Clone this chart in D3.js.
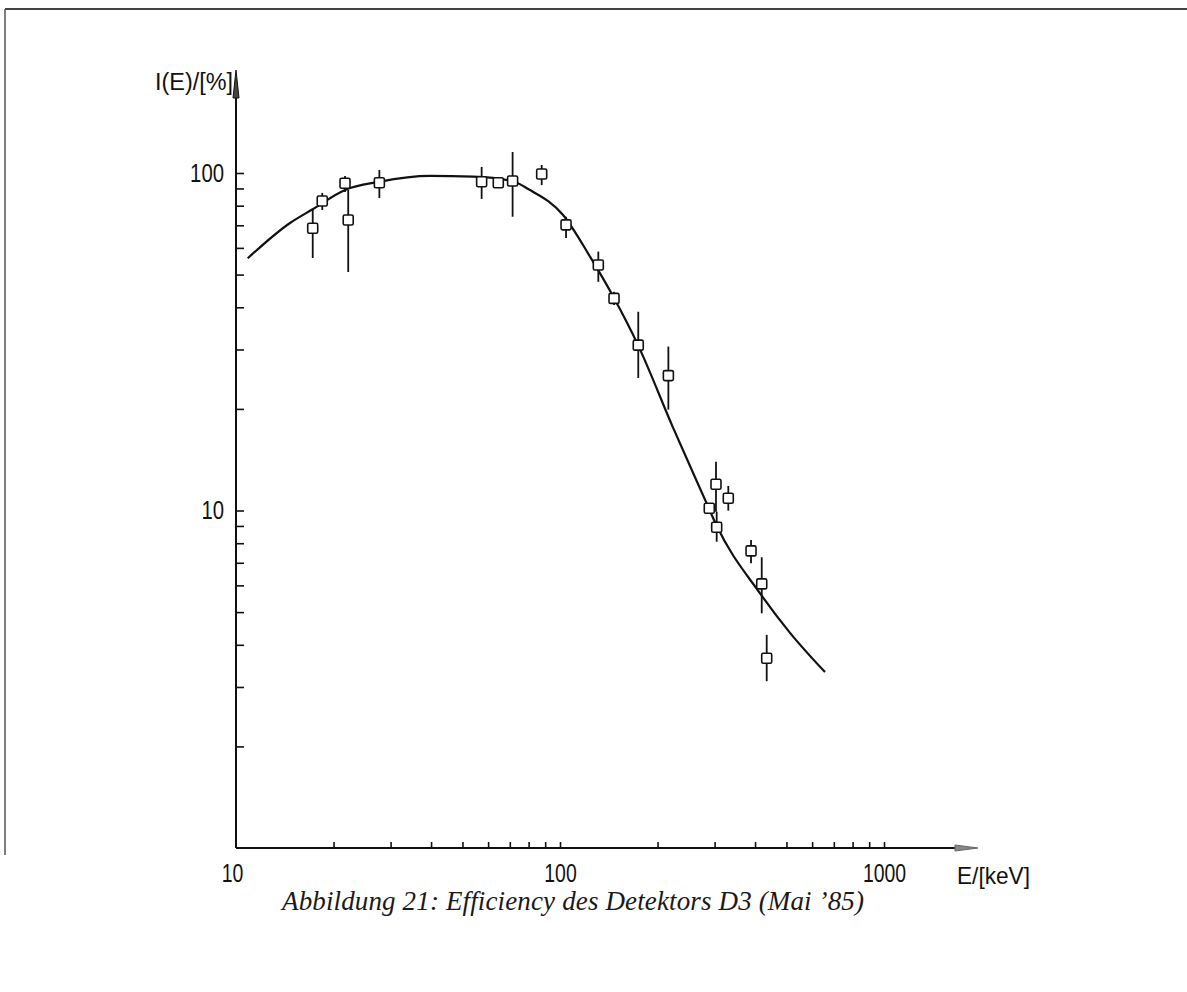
<!DOCTYPE html>
<html>
<head>
<meta charset="utf-8">
<script src="https://cdn.jsdelivr.net/npm/d3@7"></script>
<style>
  body { margin: 0; background: #fff; }
  svg { display: block; }
</style>
</head>
<body>
<div id="chart"></div>
<script>
// measured points: energy [keV], efficiency [%], error bar ends
var energies  = [17.25, 18.46, 21.7, 22.2, 27.7, 57.3, 64.5, 71.4, 87.8, 104.4, 131.3,
                 146.8, 174.4, 216.0, 288.9, 303.0, 330.7, 304.5, 388.7, 419.4, 434.5];
var effValues = [68.6, 82.6, 93.2, 72.6, 93.6, 94.2, 93.6, 94.7, 99.3, 70.2, 53.4,
                 42.5, 30.9, 25.1, 10.15, 11.96, 10.87, 8.92, 7.59, 6.06, 3.65];
var errHigh   = [77.7, 87.3, 98.0, 89.1, 102.1, 104.2, 93.6, 115.4, 105.6, 74.2, 58.5,
                 44.5, 38.8, 30.6, 10.15, 13.95, 11.82, 9.92, 8.18, 7.27, 4.28];
var errLow    = [56.0, 77.7, 87.8, 50.9, 84.3, 83.8, 93.6, 74.2, 92.1, 64.2, 47.6,
                 40.6, 24.7, 19.9, 10.15, 9.92, 9.99, 8.08, 6.98, 4.96, 3.12];

// fitted efficiency curve
var curveE = [10.87, 14.68, 17.29, 21.7, 27.6, 39.7, 53.9, 71.1, 80.0, 102.2, 123.8,
              146.8, 174.1, 223.3, 283.6, 303.0, 414.4, 512.8, 657.5];
var curveI = [55.9, 71.1, 78.2, 89.1, 94.1, 98.0, 97.5, 94.7, 89.5, 75.1, 56.5,
              42.6, 30.9, 17.6, 10.5, 9.1, 5.68, 4.34, 3.32];

var xTicks = [20, 30, 40, 50, 60, 70, 80, 90, 100, 200, 300, 400, 500, 600, 700, 800, 900, 1000];
var xLabels = [10, 100, 1000];
var yTicks = [2, 3, 4, 5, 6, 7, 8, 9, 10, 20, 30, 40, 50, 60, 70, 80, 90, 100];
var yLabels = [10, 100];

var width = 1187, height = 992;
var ink = "#111";

var svg = d3.select("#chart").append("svg")
    .attr("width", width)
    .attr("height", height);

// page frame remnants (scan edge)
svg.append("line")
    .attr("x1", 5).attr("y1", 9).attr("x2", width).attr("y2", 9)
    .attr("stroke", "#444").attr("stroke-width", 2);
svg.append("line")
    .attr("x1", 5).attr("y1", 9).attr("x2", 5).attr("y2", 855)
    .attr("stroke", "#555").attr("stroke-width", 1.5);

var x = d3.scaleLog().domain([10, 1000]).range([236, 884]);
var y = d3.scaleLog().domain([1, 100]).range([848, 173]);

var x0 = x(10), y0 = y(1);

// x axis: ticks pointing up
var gx = svg.append("g")
    .attr("transform", "translate(0," + y0 + ")")
    .call(d3.axisBottom(x)
        .tickValues(xTicks.concat([10]))
        .tickSizeInner(-6)
        .tickSizeOuter(0)
        .tickPadding(16)
        .tickFormat(function(d) { return xLabels.indexOf(d) >= 0 ? d : ""; }));
gx.select(".domain").remove();
gx.selectAll(".tick line").attr("stroke", ink).attr("stroke-width", 1.6);
gx.selectAll(".tick").filter(function(d) { return d == 10; }).select("line").remove();
gx.selectAll(".tick").filter(function(d) { return d == 10; }).select("text").attr("x", -4);
gx.selectAll("text")
    .attr("fill", ink)
    .style("font-family", "Liberation Sans, Arial, sans-serif")
    .style("font-size", "26px")
    .attr("lengthAdjust", "spacingAndGlyphs")
    .attr("textLength", function(d) { return xLabels.indexOf(d) >= 0 ? String(d).length * 10.8 : null; });

// y axis: ticks pointing right
var gy = svg.append("g")
    .attr("transform", "translate(" + x0 + ",0)")
    .call(d3.axisLeft(y)
        .tickValues(yTicks)
        .tickSizeInner(-8)
        .tickSizeOuter(0)
        .tickPadding(12)
        .tickFormat(function(d) { return yLabels.indexOf(d) >= 0 ? d : ""; }));
gy.select(".domain").remove();
gy.selectAll(".tick line").attr("stroke", ink).attr("stroke-width", 1.6);
gy.selectAll("text")
    .attr("fill", ink)
    .style("font-family", "Liberation Sans, Arial, sans-serif")
    .style("font-size", "26px")
    .attr("lengthAdjust", "spacingAndGlyphs")
    .attr("textLength", function(d) { return yLabels.indexOf(d) >= 0 ? String(d).length * 11.3 : null; });

// axis lines with arrow heads
svg.append("line")
    .attr("x1", x0).attr("y1", y0).attr("x2", 958).attr("y2", y0)
    .attr("stroke", ink).attr("stroke-width", 2);
svg.append("path")
    .attr("d", "M955," + (y0 - 3) + "L978," + y0 + "L955," + (y0 + 3) + "Z")
    .attr("fill", "#888").attr("stroke", "#666").attr("stroke-width", 1);

svg.append("line")
    .attr("x1", x0).attr("y1", y0).attr("x2", x0).attr("y2", 95)
    .attr("stroke", ink).attr("stroke-width", 2);
svg.append("path")
    .attr("d", "M" + (x0 - 3) + ",98L" + x0 + ",70L" + (x0 + 3) + ",98Z")
    .attr("fill", "#444").attr("stroke", ink).attr("stroke-width", 1);

// axis titles
svg.append("text")
    .attr("x", 155).attr("y", 90)
    .attr("textLength", 78).attr("lengthAdjust", "spacingAndGlyphs")
    .attr("fill", ink)
    .style("font-family", "Liberation Sans, Arial, sans-serif")
    .style("font-size", "23px")
    .text("I(E)/[%]");

svg.append("text")
    .attr("x", 957).attr("y", 884)
    .attr("textLength", 73).attr("lengthAdjust", "spacingAndGlyphs")
    .attr("fill", ink)
    .style("font-family", "Liberation Sans, Arial, sans-serif")
    .style("font-size", "24px")
    .text("E/[keV]");

// fitted curve
var curveData = curveE.map(function(e, i) { return [e, curveI[i]]; });
svg.append("path")
    .datum(curveData)
    .attr("fill", "none")
    .attr("stroke", ink)
    .attr("stroke-width", 2.2)
    .attr("d", d3.line()
        .x(function(d) { return x(d[0]); })
        .y(function(d) { return y(d[1]); })
        .curve(d3.curveMonotoneX));

// error bars
var pts = energies.map(function(e, i) {
    return { e: e, v: effValues[i], lo: errLow[i], hi: errHigh[i] };
});

svg.append("g").selectAll("line")
    .data(pts.filter(function(d) { return d.hi > d.lo; }))
    .enter().append("line")
    .attr("x1", function(d) { return x(d.e); })
    .attr("x2", function(d) { return x(d.e); })
    .attr("y1", function(d) { return y(d.hi); })
    .attr("y2", function(d) { return y(d.lo); })
    .attr("stroke", ink)
    .attr("stroke-width", 1.8);

// square markers
var s = 10;
svg.append("g").selectAll("rect")
    .data(pts)
    .enter().append("rect")
    .attr("x", function(d) { return x(d.e) - s / 2; })
    .attr("y", function(d) { return y(d.v) - s / 2; })
    .attr("width", s)
    .attr("height", s)
    .attr("rx", 1.5)
    .attr("fill", "#fff")
    .attr("stroke", ink)
    .attr("stroke-width", 1.6);

// caption
svg.append("text")
    .attr("x", 282).attr("y", 910)
    .attr("textLength", 582).attr("lengthAdjust", "spacing")
    .attr("fill", "#1a1a1a")
    .style("font-family", "Liberation Serif, 'Times New Roman', serif")
    .style("font-style", "italic")
    .style("font-size", "27px")
    .text("Abbildung 21:  Efficiency des Detektors D3 (Mai \u201985)");
</script>
</body>
</html>
